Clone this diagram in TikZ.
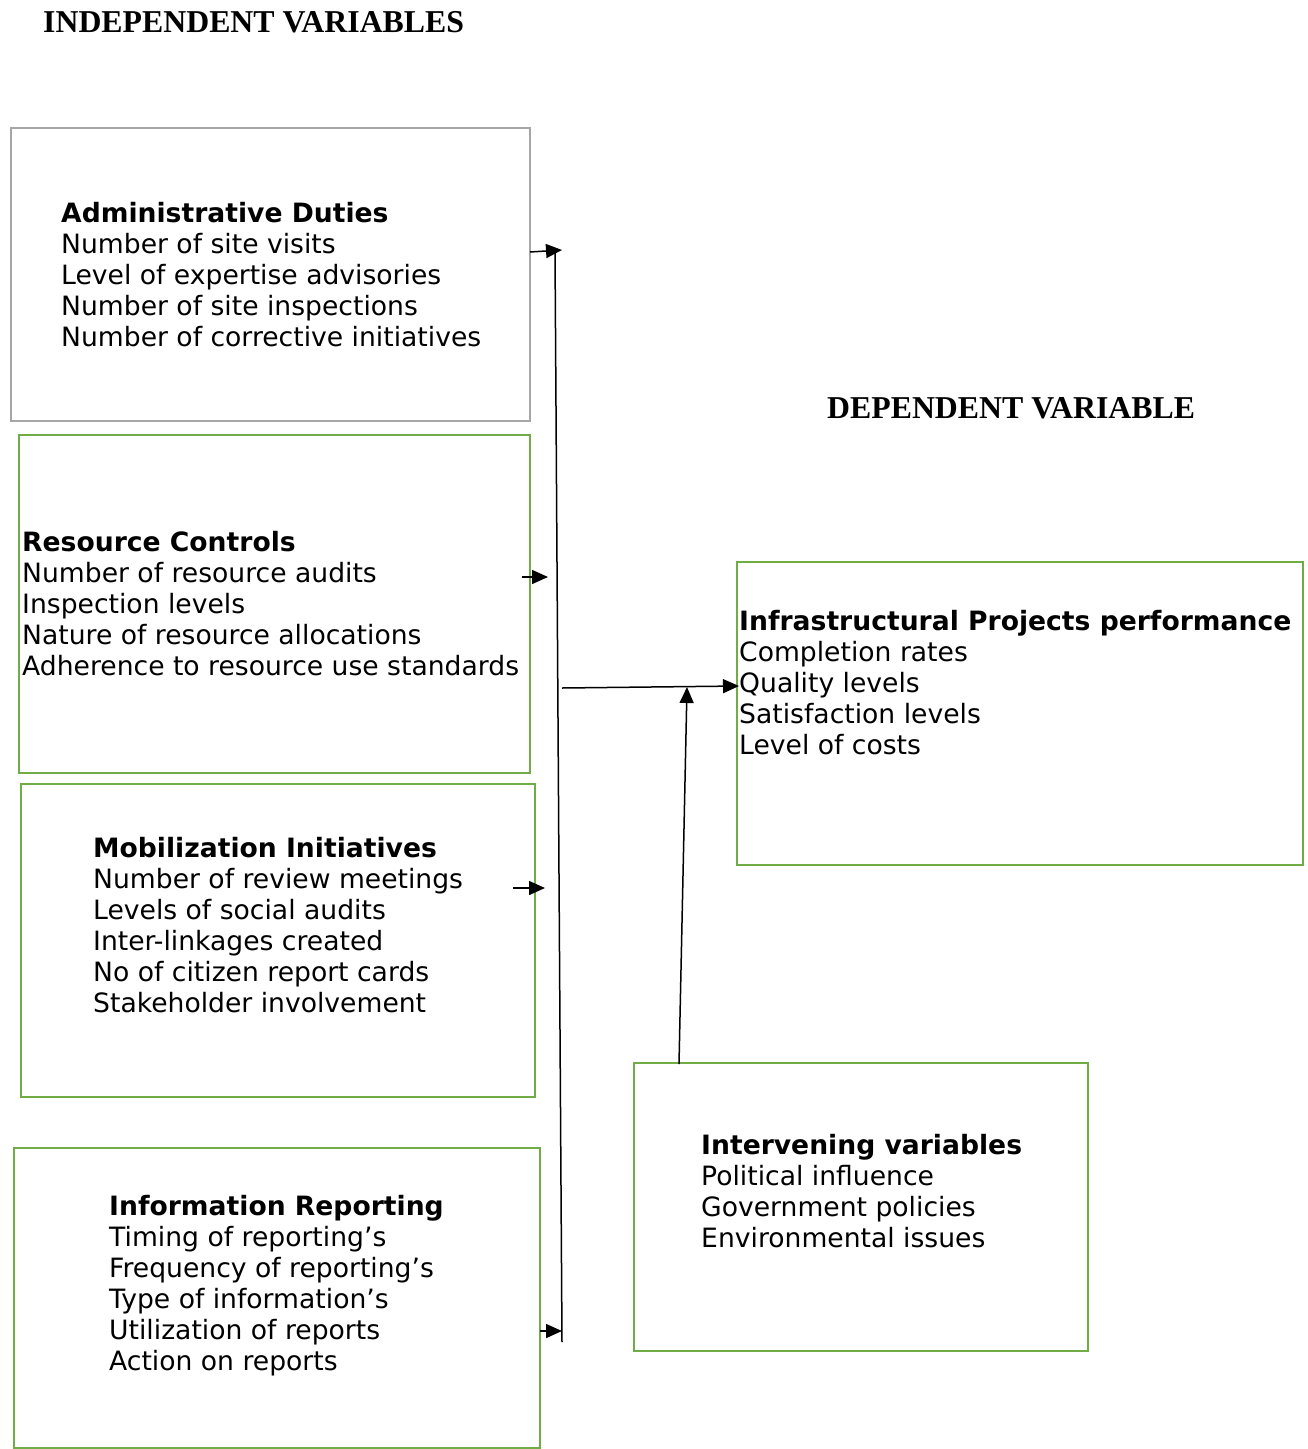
\documentclass[tikz,border=0pt]{standalone}
\usepackage{fontspec}
\setmainfont{DejaVu Sans}
\newfontfamily\headfont{Liberation Serif}
\usetikzlibrary{arrows.meta}
\definecolor{boxgreen}{HTML}{70AD47}
\definecolor{boxgray}{HTML}{A6A6A6}
\begin{document}
\begin{tikzpicture}[x=1pt,y=-1pt,
  box/.style={draw=boxgreen,line width=2.5pt,anchor=north west,inner sep=0pt,outer sep=0pt},
  graybox/.style={box,draw=boxgray},
  txt/.style={anchor=north west,inner sep=0pt,align=left,font=\fontsize{26.6}{31}\selectfont},
  head/.style={anchor=west,inner sep=0pt,font=\headfont\bfseries\fontsize{31.8}{36}\selectfont},
  arr/.style={line width=1.5pt,-{Triangle[length=16pt,width=14pt]}},
  ln/.style={line width=1.5pt}]
\useasboundingbox (0,0) rectangle (1308,1449);

\node[head] (hind) at (43,22) {INDEPENDENT VARIABLES};
\node[head] (hdep) at (827,408) {DEPENDENT VARIABLE};

\node[graybox,minimum width=519pt,minimum height=293pt] (b1) at (11,128) {};
\node[box,minimum width=511pt,minimum height=338pt] (b2) at (19,435) {};
\node[box,minimum width=514pt,minimum height=313pt] (b3) at (21,784) {};
\node[box,minimum width=526pt,minimum height=300pt] (b4) at (14,1148) {};
\node[box,minimum width=566pt,minimum height=303pt] (b5) at (737,562) {};
\node[box,minimum width=454pt,minimum height=288pt] (b6) at (634,1063) {};

\node[txt] (t1) at (61,202) {\textbf{Administrative Duties}\\Number of site visits\\Level of expertise advisories\\Number of site inspections\\Number of corrective initiatives};
\node[txt] (t2) at (22,531) {\textbf{Resource Controls}\\Number of resource audits\\Inspection levels\\Nature of resource allocations\\Adherence to resource use standards};
\node[txt] (t3) at (93,837) {\textbf{Mobilization Initiatives}\\Number of review meetings\\Levels of social audits\\Inter-linkages created\\No of citizen report cards\\Stakeholder involvement};
\node[txt] (t4) at (109,1195) {\textbf{Information Reporting}\\Timing of reporting’s\\Frequency of reporting’s\\Type of information’s\\Utilization of reports\\Action on reports};
\node[txt] (t5) at (739,610) {\textbf{Infrastructural Projects performance}\\Completion rates\\Quality levels\\Satisfaction levels\\Level of costs};
\node[txt] (t6) at (701,1134) {\textbf{Intervening variables}\\Political influence\\Government policies\\Environmental issues};

\coordinate (spTop) at (555,251);
\coordinate (spBot) at (562,1342);
\draw[ln] (spTop) -- (spBot);

\coordinate (a1s) at (530,252); \coordinate (a1e) at (562,250);
\coordinate (a2s) at (522,577); \coordinate (a2e) at (548,577);
\coordinate (a3s) at (513,888); \coordinate (a3e) at (545,888);
\coordinate (a4s) at (540,1331); \coordinate (a4e) at (562,1331);
\coordinate (hs) at (562,688); \coordinate (he) at (739,686);
\coordinate (vs) at (679,1064); \coordinate (ve) at (687,687);

\draw[arr] (a1s) -- (a1e);
\draw[arr] (a2s) -- (a2e);
\draw[arr] (a3s) -- (a3e);
\draw[arr] (a4s) -- (a4e);
\draw[arr] (hs) -- (he);
\draw[arr] (vs) -- (ve);
\end{tikzpicture}
\end{document}
